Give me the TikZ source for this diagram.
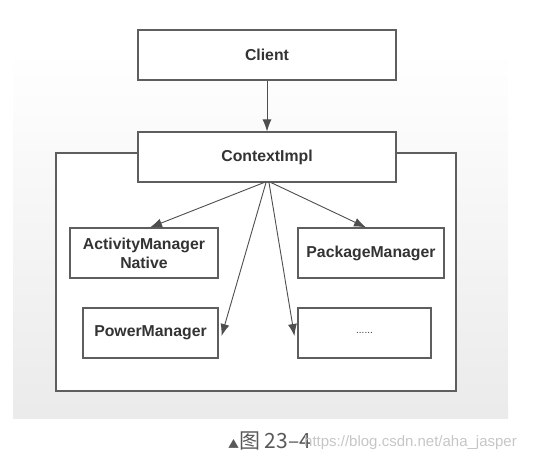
\documentclass[tikz,border=0pt]{standalone}
\usepackage{fontspec}
\setmainfont{Liberation Sans}
\newfontfamily\cjk{Noto Sans CJK SC}
\usetikzlibrary{arrows.meta}
\definecolor{linec}{HTML}{5E5E5E}
\definecolor{arrc}{HTML}{4E4E4E}
\definecolor{txtc}{HTML}{333333}
\tikzset{
  box/.style={draw=linec, line width=1.1pt, fill=white, text=txtc,
    font=\fontsize{15.8}{19}\selectfont\bfseries, align=center, inner sep=0pt},
  conn/.style={draw=arrc, line width=0.9pt, -{Latex[length=12pt,width=9pt]}},
}
\begin{document}
\begin{tikzpicture}[x=1pt,y=-1pt]
\useasboundingbox (0,0) rectangle (544,459);
% background
\shade[top color=white, bottom color=gray!16] (13,50) rectangle (508,418);
% outer frame
\draw[draw=linec, line width=1.1pt, fill=white] (56,153) rectangle (456,391);
% nodes
\node[box, minimum width=258pt, minimum height=50pt] (client) at (267,55) {Client};
\node[box, minimum width=258pt, minimum height=50pt] (ctx) at (267,157) {ContextImpl};
\node[box, minimum width=148pt, minimum height=50pt] (amn) at (144,253) {ActivityManager\\Native};
\node[box, minimum width=146pt, minimum height=50pt] (pkg) at (371,253) {PackageManager};
\node[box, minimum width=135pt, minimum height=50pt] (pwr) at (150.5,333) {PowerManager};
\node[box, minimum width=133pt, minimum height=50pt, font=\fontsize{10}{12}\selectfont] (dots) at (364.5,333) {\raisebox{-1pt}{......}};
% connectors
\draw[conn] (client.south) -- (ctx.north);
\draw[conn] ([xshift=-3pt]ctx.south) -- ([xshift=6pt]amn.north);
\draw[conn] ([xshift=-1pt]ctx.south) -- ([xshift=3pt,yshift=-3pt]pwr.east);
\draw[conn] ([xshift=2pt]ctx.south) -- ([xshift=-3pt,yshift=-3pt]dots.west);
\draw[conn] ([xshift=4pt]ctx.south) -- ([xshift=-5pt]pkg.north);
% caption
\node[anchor=base west, inner sep=0pt, text=gray!70!black, font=\cjk\fontsize{21}{24}\selectfont] (cap) at (228,448) {{\fontsize{11}{12}\selectfont ▲}图 23–4};
\node[anchor=base west, inner sep=0pt, text=gray!45, font=\fontsize{15}{18}\selectfont] (wm) at (304,446) {https://blog.csdn.net/aha\_jasper};
\end{tikzpicture}
\end{document}
